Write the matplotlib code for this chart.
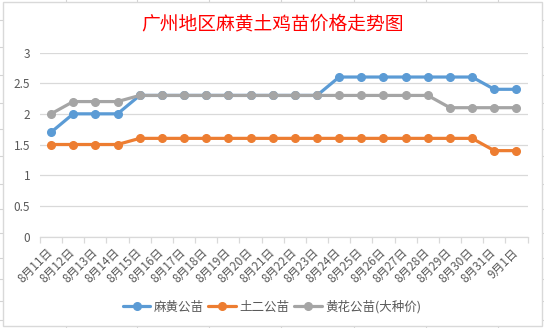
import matplotlib
matplotlib.use('Agg')
import matplotlib.pyplot as plt
from matplotlib.lines import Line2D
from matplotlib.patches import Rectangle

plt.rcParams['font.family'] = ['Noto Sans CJK SC', 'DejaVu Sans']

# data
dates = ['8月11日', '8月12日', '8月13日', '8月14日', '8月15日', '8月16日', '8月17日',
         '8月18日', '8月19日', '8月20日', '8月21日', '8月22日', '8月23日', '8月24日',
         '8月25日', '8月26日', '8月27日', '8月28日', '8月29日', '8月30日', '8月31日', '9月1日']
mahuang = [1.7, 2.0, 2.0, 2.0, 2.3, 2.3, 2.3, 2.3, 2.3, 2.3, 2.3, 2.3, 2.3, 2.6,
           2.6, 2.6, 2.6, 2.6, 2.6, 2.6, 2.4, 2.4]
tuer = [1.5, 1.5, 1.5, 1.5, 1.6, 1.6, 1.6, 1.6, 1.6, 1.6, 1.6, 1.6, 1.6, 1.6,
        1.6, 1.6, 1.6, 1.6, 1.6, 1.6, 1.4, 1.4]
huanghua = [2.0, 2.2, 2.2, 2.2, 2.3, 2.3, 2.3, 2.3, 2.3, 2.3, 2.3, 2.3, 2.3, 2.3,
            2.3, 2.3, 2.3, 2.3, 2.1, 2.1, 2.1, 2.1]
names = ['麻黄公苗', '土二公苗', '黄花公苗(大种价)']
colors = ['#5B9BD5', '#ED7D31', '#A5A5A5']

W, H = 544, 328
fig = plt.figure(figsize=(W / 100, H / 100), dpi=100)

def px(x, y):
    return x / W, 1 - y / H

# spreadsheet cell lines behind the chart
cell = '#D4D4D4'
for x in [66, 137, 209, 281, 354, 426, 498]:
    fig.add_artist(Line2D([x / W] * 2, [0, 1], color=cell, lw=0.8, zorder=0))
for y in [20, 47, 75, 103, 129, 156, 184, 209, 233, 258, 279, 301, 320]:
    fig.add_artist(Line2D([0, 1], [1 - y / H] * 2, color=cell, lw=0.8, zorder=0))

# chart area
x0, y0 = px(2.5, 325.5)
x1, y1 = px(541.5, 2.5)
fig.add_artist(Rectangle((x0, y0), x1 - x0, y1 - y0, transform=fig.transFigure,
                         facecolor='white', edgecolor='#D9D9D9', lw=1, zorder=0.5))

left, top = px(40, 52.5)
right, bottom = px(527.5, 236.5)
ax = fig.add_axes([left, bottom, right - left, top - bottom])
ax.set_facecolor('none')
ax.set_zorder(2)

xs = list(range(len(dates)))
for vals, name, c in zip([mahuang, tuer, huanghua], names, colors):
    ax.plot(xs, vals, color=c, lw=2.3, marker='o', markersize=5.5, label=name,
            solid_capstyle='round', zorder=3)

ax.set_xlim(-0.5, len(dates) - 0.5)
ax.set_ylim(0, 3)
ax.set_yticks([0, 0.5, 1, 1.5, 2, 2.5, 3])
ax.set_yticklabels(['0', '0.5', '1', '1.5', '2', '2.5', '3'])
ax.grid(axis='y', color='#D9D9D9', lw=0.9)
ax.set_axisbelow(True)

for s in ['top', 'right', 'left']:
    ax.spines[s].set_visible(False)
ax.spines['bottom'].set_color('#D9D9D9')
ax.spines['bottom'].set_linewidth(0.9)

ax.set_xticks(xs)
ax.set_xticklabels(dates, rotation=45, ha='right', va='center', rotation_mode='anchor')
ax.set_xticks([i - 0.5 for i in range(len(dates) + 1)], minor=True)
ax.tick_params(axis='x', which='major', length=0, pad=10, labelsize=8.5, labelcolor='#595959')
ax.tick_params(axis='x', which='minor', length=4, color='#D9D9D9', width=0.9)
ax.tick_params(axis='y', length=0, pad=7, labelsize=8.5, labelcolor='#595959')

fig.text(0.5, 1 - 24 / H, '广州地区麻黄土鸡苗价格走势图', color='#FF0000', fontsize=13.5,
         ha='center', va='center', zorder=3)

leg = fig.legend(loc='center', bbox_to_anchor=(0.5, 21 / H), ncol=3, frameon=False,
                 fontsize=9, handlelength=2.2, columnspacing=0.35, handletextpad=0.3,
                 labelcolor='#595959')
leg.set_zorder(3)

fig.savefig('out.png', dpi=100)
